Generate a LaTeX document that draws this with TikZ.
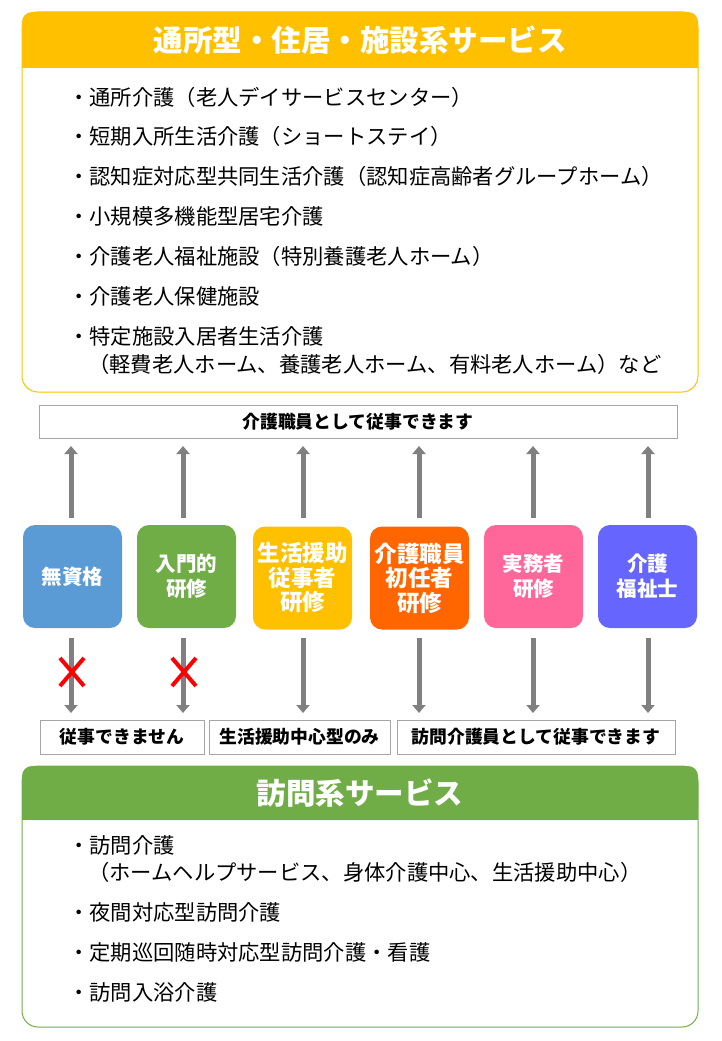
\documentclass[tikz,border=0pt]{standalone}
\usepackage{fontspec}
\setmainfont{Noto Sans CJK JP}
\usetikzlibrary{arrows.meta}
\definecolor{cy}{HTML}{FFC000}
\definecolor{cg}{HTML}{70AD47}
\definecolor{cb}{HTML}{5B9BD5}
\definecolor{co}{HTML}{FF6600}
\definecolor{cp}{HTML}{FF6699}
\definecolor{cv}{HTML}{6666FF}
\definecolor{gr}{HTML}{808080}
\tikzset{
 item/.style={anchor=west,font=\fontsize{21.3}{24}\selectfont,inner sep=0},
 qual/.style={rounded corners=12pt,minimum width=99pt,minimum height=103pt,text=white,font=\bfseries\fontsize{20.5}{25}\selectfont,align=center,inner sep=0},
 qbig/.style={font=\bfseries\fontsize{22.5}{24.5}\selectfont},
 lbl/.style={draw=gr!70,line width=1pt,font=\bfseries\fontsize{17.8}{20}\selectfont,inner sep=0},
 arr/.style={gr,line width=5pt,-{Triangle[length=8pt,width=13pt]}},
 xm/.style={red,line width=4pt}
}
\begin{document}
\begin{tikzpicture}[x=1pt,y=-1pt]
\useasboundingbox (0,0) rectangle (721,1041);
% top panel
\draw[cy,line width=1pt,fill=white,rounded corners=16pt] (22,12) rectangle (698,392);
\fill[cy,rounded corners=10pt] (22,12) rectangle (698,68);
\fill[cy] (22,40) rectangle (698,68);
\node[text=white,font=\bfseries\fontsize{29.5}{32}\selectfont] (th) at (360,40) {通所型・住居・施設系サービス};
\node[item] (t1) at (68,97) {・通所介護（老人デイサービスセンター）};
\node[item] (t2) at (68,136) {・短期入所生活介護（ショートステイ）};
\node[item] (t3) at (68,176) {・認知症対応型共同生活介護（認知症高齢者グループホーム）};
\node[item] (t4) at (68,216) {・小規模多機能型居宅介護};
\node[item] (t5) at (68,256) {・介護老人福祉施設（特別養護老人ホーム）};
\node[item] (t6) at (68,296) {・介護老人保健施設};
\node[item] (t7) at (68,336) {・特定施設入居者生活介護};
\node[item] (t8) at (88,364) {（軽費老人ホーム、養護老人ホーム、有料老人ホーム）など};
% middle
\node[lbl,minimum width=638pt,minimum height=33pt] (top) at (358,421.5) {介護職員として従事できます};
\node[qual,fill=cb] (q1) at (72.5,576.5) {無資格};
\node[qual,fill=cg] (q2) at (186.5,576.5) {入門的\\研修};
\node[qual,qbig,fill=cy] (q3) at (302.5,578) {生活援助\\従事者\\研修};
\node[qual,qbig,fill=co] (q4) at (419.5,578) {介護職員\\初任者\\研修};
\node[qual,fill=cp] (q5) at (533.5,576.5) {実務者\\研修};
\node[qual,fill=cv] (q6) at (647.5,576.5) {介護\\福祉士};
\node[lbl,minimum width=164pt,minimum height=34pt] (b1) at (122,737) {従事できません};
\node[lbl,minimum width=181pt,minimum height=34pt] (b2) at (299.5,737) {生活援助中心型のみ};
\node[lbl,minimum width=278pt,minimum height=34pt] (b3) at (536,737) {訪問介護員として従事できます};
\foreach \i/\x in {1/71,2/183,3/303,4/419,5/533,6/648}{
 \coordinate (u\i) at (\x,518);
 \coordinate (ue\i) at (\x,446);
 \coordinate (d\i) at (\x,638);
 \coordinate (de\i) at (\x,713);
 \draw[arr] (u\i) -- (ue\i);
 \draw[arr] (d\i) -- (de\i);
}
\foreach \x in {72,184}{
 \draw[xm] (\x-12,658) -- (\x+12,686);
 \draw[xm] (\x+12,658) -- (\x-12,686);
}
% bottom panel
\draw[cg,line width=1pt,fill=white,rounded corners=16pt] (22,766) rectangle (698,1027);
\fill[cg,rounded corners=10pt] (22,766) rectangle (698,820);
\fill[cg] (22,795) rectangle (698,820);
\node[text=white,font=\bfseries\fontsize{29.5}{32}\selectfont] (bh) at (360,793) {訪問系サービス};
\node[item] (v1) at (68,845) {・訪問介護};
\node[item] (v2) at (88,872) {（ホームヘルプサービス、身体介護中心、生活援助中心）};
\node[item] (v3) at (68,912) {・夜間対応型訪問介護};
\node[item] (v4) at (68,952) {・定期巡回随時対応型訪問介護・看護};
\node[item] (v5) at (68,992) {・訪問入浴介護};
\end{tikzpicture}
\end{document}
